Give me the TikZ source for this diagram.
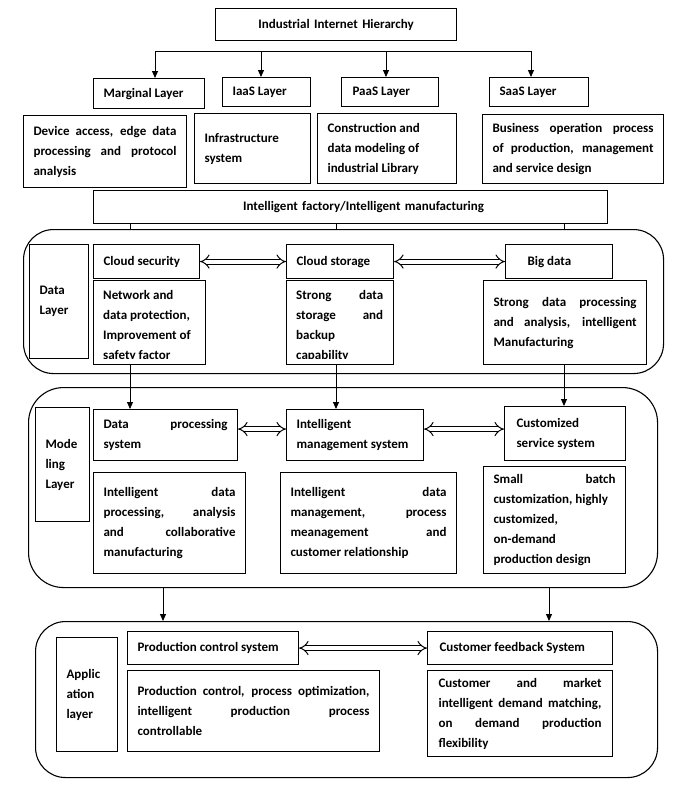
\documentclass[tikz,border=0pt]{standalone}
\usepackage{fontspec}
\setmainfont{Carlito}
\usetikzlibrary{arrows.meta}
\tolerance=10000
\hyphenpenalty=10000
\exhyphenpenalty=10000
\begin{document}
\tolerance=10000
\hyphenpenalty=10000
\exhyphenpenalty=10000
\begin{tikzpicture}[x=1pt,y=-1pt,
  txt/.style={font=\fontsize{13}{20}\selectfont\bfseries},
  box/.style n args={4}{txt, draw, line width=1.1pt, anchor=north west,
     minimum width=#1pt, minimum height=#2pt, inner xsep=#3pt, inner ysep=0pt,
     /utils/exec={\pgfmathsetlengthmacro\mytw{#1pt-2*#3pt}}, text width=\mytw, align=#4},
  frame/.style n args={3}{draw, line width=1.1pt, anchor=north west, inner sep=0pt,
     minimum width=#1pt, minimum height=#2pt, rounded corners=#3pt},
  ln/.style={line width=0.9pt},
  arr/.style={line width=0.9pt, -{Triangle[length=7pt,width=6pt]}},
  darr/.style={line width=1pt, double, double distance=4pt, {Implies}-{Implies}}
]
\useasboundingbox (0,0) rectangle (693,788);

% top hierarchy
\node[box={241}{32}{10}{center}] (top) at (215,8) {Industrial Internet Hierarchy};

\node[box={111}{30}{10}{justify}] (mlb) at (93,78) {Marginal Layer};
\node[box={88}{29}{10}{justify}] (ilb) at (222,77) {IaaS Layer};
\node[box={97}{29}{11}{justify}] (plb) at (341,77) {PaaS Layer};
\node[box={99}{29}{10}{justify}] (slb) at (489,77) {SaaS Layer};

\node[box={163}{72}{10}{justify}] (dev) at (23,115) {Device access, edge data\linebreak processing and protocol\linebreak analysis};
\node[box={116}{70}{10}{justify}] (inf) at (194,113) {Infrastructure\\system};
\node[box={139}{70}{10}{justify}] (con) at (317,113) {Construction and\\data modeling of\\industrial Library};
\node[box={181}{69}{10}{justify}] (bus) at (482,114) {Business operation process\linebreak of production, management\linebreak and service design};

\node[box={514}{33}{10}{center}] (fac) at (93,190) {\hspace*{26pt}Intelligent factory/Intelligent manufacturing};

\coordinate (t1) at (155,51);
\coordinate (t2) at (261,51);
\coordinate (t3) at (386,51);
\coordinate (t4) at (531,51);
\draw[ln] (t1) -- (t4);
\draw[arr] (t1) -- (t1 |- mlb.north);
\draw[arr] (t2) -- (t2 |- ilb.north);
\draw[arr] (t3) -- (t3 |- plb.north);
\draw[arr] (t4) -- (t4 |- slb.north);

% data layer
\node[frame={640}{144}{30}] (dl) at (23,229) {};
\node[box={59}{114}{10}{justify}] (dll) at (29,244) {Data\\Layer};
\node[box={106}{34}{10}{justify}] (cs) at (93,244) {Cloud security};
\node[box={112}{84}{10}{justify}] (nd) at (93,280) {};
\node[box={107}{34}{10}{justify}] (cst) at (286,244) {Cloud storage};
\node[box={107}{84}{10}{justify}] (sd) at (286,280) {};
\node[box={107}{34}{22}{justify}] (bd) at (505,244) {Big data};
\node[box={163}{84}{10}{justify}] (bdd) at (483,280) {Strong data processing\linebreak and analysis, intelligent\linebreak Manufacturing};

\begin{scope}
\clip (94,281) rectangle (204,358);
\node[txt, anchor=base west, inner sep=0pt, text width=92pt, align=justify] (ndt) at (103,299) {Network and\\data protection,\\Improvement of\\safety factor};
\end{scope}
\begin{scope}
\clip (287,281) rectangle (392,358);
\node[txt, anchor=base west, inner sep=0pt, text width=87pt, align=justify] (sdt) at (296,299) {Strong data\linebreak storage and\linebreak backup\\capability};
\end{scope}

\draw[darr] (cs.east) -- (cst.west);
\draw[darr] (cst.east) -- (bd.west);

\coordinate (v1) at (130,0);
\coordinate (v2) at (336,0);
\coordinate (v3) at (564,0);
\draw[ln] (fac.south -| v1) -- (dl.north -| v1);
\draw[ln] (fac.south -| v2) -- (dl.north -| v2);
\draw[ln] (fac.south -| v3) -- (dl.north -| v3);

% modeling layer
\node[frame={629}{200}{35}] (ml) at (28,387) {};
\node[box={54}{114}{10}{justify}] (mll) at (35,407) {Mode\\ling\\Layer};
\node[box={144}{51}{10}{justify}] (dps) at (93,409) {Data processing\linebreak system};
\node[box={137}{51}{10}{justify}] (ims) at (286,409) {Intelligent\\management system};
\node[box={121}{54}{12}{justify}] (css) at (504,406) {Customized\\service system};
\node[box={152}{101}{10}{justify}] (idp) at (93,472) {Intelligent data\linebreak processing, analysis\linebreak and collaborative\linebreak manufacturing};
\node[box={176}{101}{10}{justify}] (idm) at (280,472) {Intelligent data\linebreak management, process\linebreak meanagement and\linebreak customer relationship};
\node[box={142}{107}{10}{justify}] (sbc) at (483,466) {Small batch\linebreak customization, highly\\customized,\\on-demand\\production design};

\draw[arr] (nd.south -| v1) -- (dps.north -| v1);
\draw[arr] (sd.south -| v2) -- (ims.north -| v2);
\draw[arr] (bdd.south -| v3) -- (css.north -| v3);

\coordinate (m1) at ([yshift=6pt]dps.east);
\draw[darr] (m1) -- (m1 -| ims.west);
\coordinate (m2) at ([yshift=6pt]ims.east);
\draw[darr] (m2) -- (m2 -| css.west);

% application layer
\node[frame={622}{156}{30}] (al) at (35,621) {};
\node[box={61}{114}{10}{justify}] (all) at (56,637) {Applic\\ation\\layer};
\node[box={171}{33}{10}{justify}] (pcs) at (127,631) {Production control system};
\node[box={185}{33}{12}{justify}] (cfs) at (427,631) {Customer feedback System};
\node[box={252}{81}{10}{justify}] (pcd) at (127,670) {Production control, process optimization,\linebreak intelligent production process\linebreak controllable};
\node[box={185}{86}{11}{justify}] (cmd) at (427,670) {Customer and market\linebreak intelligent demand matching,\linebreak on demand production\linebreak flexibility};

\draw[darr] (pcs.east) -- (cfs.west);

\coordinate (w1) at (163,0);
\coordinate (w2) at (549,0);
\draw[arr] (ml.south -| w1) -- (al.north -| w1);
\draw[arr] (ml.south -| w2) -- (al.north -| w2);
\end{tikzpicture}
\end{document}
